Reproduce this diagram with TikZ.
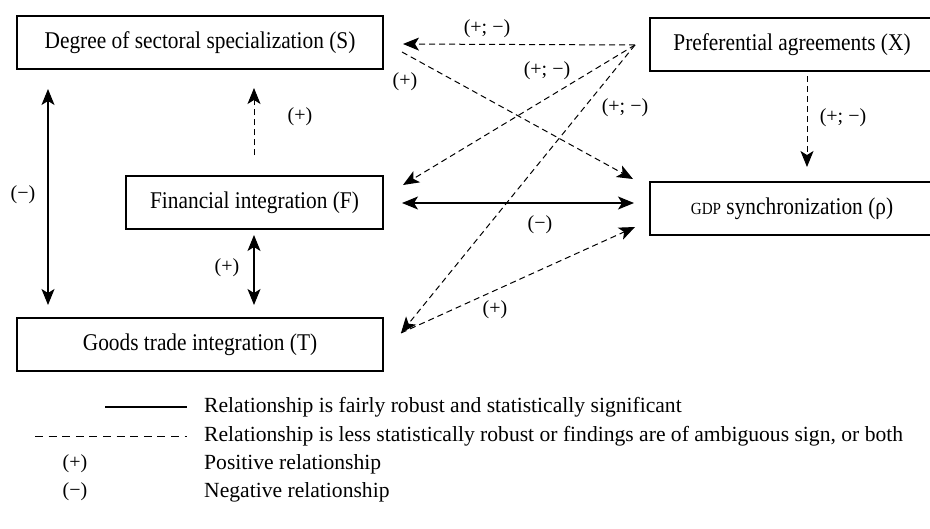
\documentclass[tikz,border=0pt]{standalone}
\usepackage{fontspec}
\setmainfont{Liberation Serif}
\newfontfamily\boxfont[FakeStretch=0.89]{Liberation Serif}
\usetikzlibrary{arrows.meta}
\begin{document}
\begin{tikzpicture}[x=1pt,y=-1pt,
  box/.style={draw,line width=1.1pt,minimum height=53pt,inner sep=0pt,font=\boxfont\fontsize{24}{27}\selectfont},
  lbl/.style={inner sep=0pt,font=\fontsize{20}{23}\selectfont},
  tip/.style={-{Stealth[length=16pt,width=13pt,inset=4pt]}},
  dtip/.style={{Stealth[length=16pt,width=13pt,inset=4pt]}-{Stealth[length=16pt,width=13pt,inset=4pt]}},
  dsh/.style={line width=1pt,dash pattern=on 6pt off 4pt},
  sol/.style={line width=1.2pt},
  legtxt/.style={anchor=west,inner sep=0pt,font=\fontsize{21.6}{24}\selectfont}]
\useasboundingbox (0,0) rectangle (930,528);
\clip (0,0) rectangle (930,528);
% boxes
\node[box,minimum width=366pt] (S) at (200,42.5) {Degree of sectoral specialization (S)};
\node[box,minimum width=284pt] (X) at (792,44.5) {Preferential agreements (X)};
\node[box,minimum width=257pt] (F) at (254.5,202.5) {Financial integration (F)};
\node[box,minimum width=284pt] (G) at (792,208.5) {{\fontsize{17}{20}\selectfont GDP} synchronization (ρ)};
\node[box,minimum width=366pt] (T) at (200,344.5) {Goods trade integration (T)};
% free ends
\coordinate (xo) at (635,45);
\coordinate (sa) at (403,44);
\coordinate (so) at (402,52);
\coordinate (gi) at (633,179);
\coordinate (fi) at (403,185);
\coordinate (ti) at (401,333);
\coordinate (gt) at (635,227);
\coordinate (fl) at (402,203);
\coordinate (fr) at (634,203);
% connectors
\draw[dsh,tip] (xo) -- (sa);
\draw[dsh,tip] (so) -- (gi);
\draw[dsh,tip] (xo) -- (fi);
\draw[dsh,tip] (xo) -- (ti);
\draw[dsh,tip] (ti) -- (gt);
\draw[sol,dtip] (fl) -- (fr);
\draw[dsh,tip] (807,76) -- (807,167);
\draw[dsh,tip] (254,155) -- (254,88);
\draw[sol,dtip] (48,89) -- (48,305);
\draw[sol,dtip] (254,235) -- (254,305);
% labels
\node[lbl] (l1) at (487,29) {(+; −)};
\node[lbl] (l2) at (405,82) {(+)};
\node[lbl] (l3) at (547,71) {(+; −)};
\node[lbl] (l4) at (625,108) {(+; −)};
\node[lbl] (l5) at (843,118) {(+; −)};
\node[lbl] (l6) at (300,117) {(+)};
\node[lbl] (l7) at (23,195) {(−)};
\node[lbl] (l8) at (227,268) {(+)};
\node[lbl] (l9) at (540,225) {(−)};
\node[lbl] (l10) at (495,310) {(+)};
% legend
\coordinate (a1) at (105,407); \coordinate (a2) at (187,407);
\coordinate (b1) at (35,436); \coordinate (b2) at (187,436);
\draw[line width=1.2pt] (a1) -- (a2);
\draw[line width=1pt,dash pattern=on 8pt off 5.6pt] (b1) -- (b2);
\node[legtxt] (t1) at (204,407) {Relationship is fairly robust and statistically significant};
\node[legtxt] (t2) at (204,436) {Relationship is less statistically robust or findings are of ambiguous sign, or both};
\node[lbl] (p) at (75,464) {(+)};
\node[legtxt] (t3) at (204,464) {Positive relationship};
\node[lbl] (m) at (75,492) {(−)};
\node[legtxt] (t4) at (204,492) {Negative relationship};
\end{tikzpicture}
\end{document}
